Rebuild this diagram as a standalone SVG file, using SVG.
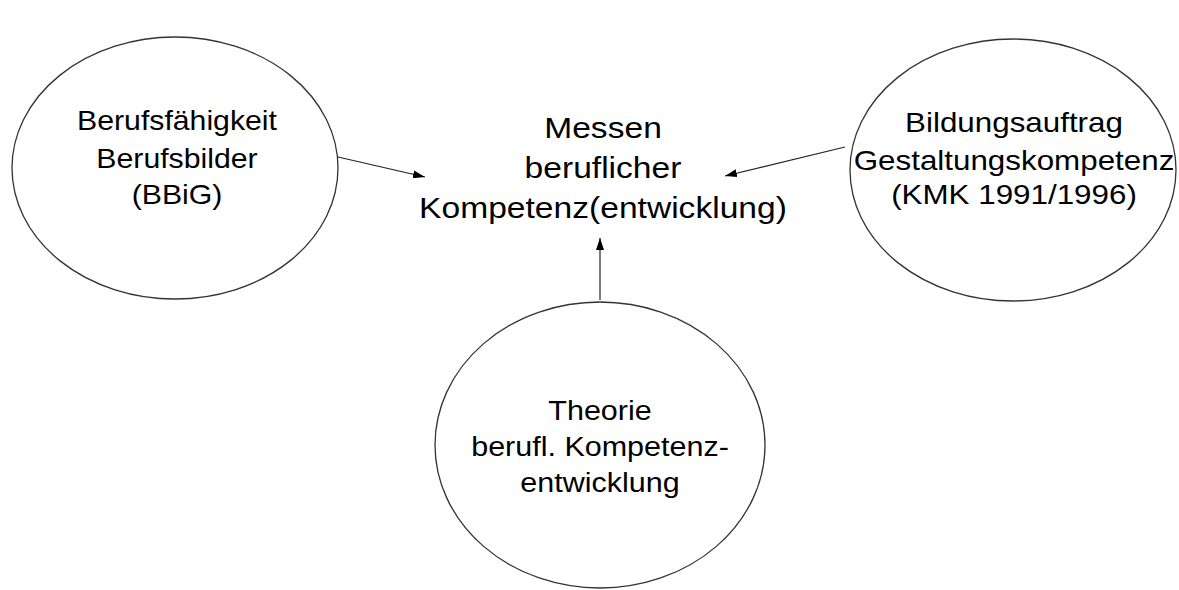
<svg xmlns="http://www.w3.org/2000/svg" width="1179" height="590" viewBox="0 0 1179 590">
<defs>
<marker id="ah" markerWidth="12" markerHeight="8" refX="12" refY="4" orient="auto" markerUnits="userSpaceOnUse">
<path d="M0,0 L12,4 L0,8 Z" fill="#000"/>
</marker>
<style>
.node ellipse{fill:#fff;stroke:#333;stroke-width:1.3}
text{font-family:"Liberation Sans",Arial,sans-serif;font-size:28px;fill:#000;text-anchor:middle}
.conn line{stroke:#222;stroke-width:1.2;marker-end:url(#ah)}
</style>
</defs>
<rect width="1179" height="590" fill="#fff"/>
<g id="node-left" class="node">
<ellipse cx="175" cy="168" rx="163" ry="131"/>
<text transform="translate(177,130) scale(1.08,1)">Berufsfähigkeit</text>
<text transform="translate(177,168) scale(1.08,1)">Berufsbilder</text>
<text transform="translate(177,204) scale(1.08,1)">(BBiG)</text>
</g>
<g id="node-right" class="node">
<ellipse cx="1013" cy="170" rx="163" ry="131"/>
<text transform="translate(1014,132) scale(1.12,1)">Bildungsauftrag</text>
<text transform="translate(1014,170) scale(1.12,1)">Gestaltungskompetenz</text>
<text transform="translate(1014,204) scale(1.12,1)">(KMK 1991/1996)</text>
</g>
<g id="node-bottom" class="node">
<ellipse cx="600" cy="445" rx="165" ry="143"/>
<text transform="translate(600,420) scale(1.09,1)">Theorie</text>
<text transform="translate(600,456) scale(1.09,1)">berufl. Kompetenz-</text>
<text transform="translate(600,492) scale(1.09,1)">entwicklung</text>
</g>
<g id="node-center" class="node">
<text transform="translate(603,138) scale(1.12,1)" style="font-size:30px">Messen</text>
<text transform="translate(603,178) scale(1.12,1)" style="font-size:30px">beruflicher</text>
<text transform="translate(603,218) scale(1.12,1)" style="font-size:30px">Kompetenz(entwicklung)</text>
</g>
<g id="connectors" class="conn">
<line x1="338" y1="157" x2="425" y2="177"/>
<line x1="845" y1="147" x2="725" y2="176"/>
<line x1="600" y1="300" x2="600" y2="238"/>
</g>
</svg>
